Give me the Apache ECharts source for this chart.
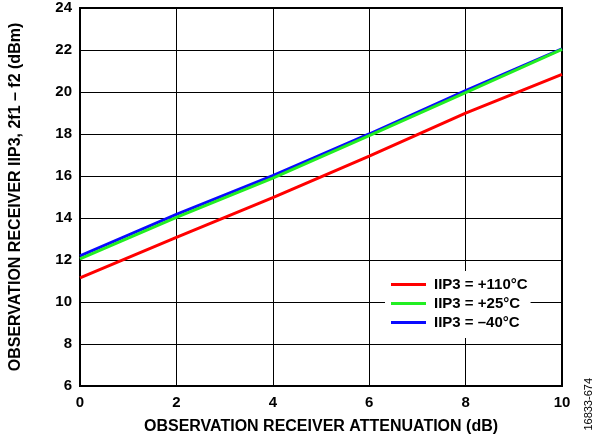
<!DOCTYPE html>
<html><head><meta charset="utf-8">
<script src="https://cdn.jsdelivr.net/npm/echarts@6/dist/echarts.min.js"></script>
<style>html,body{margin:0;padding:0;background:#fff}#c{width:597px;height:442px}</style>
</head><body><div id="c"></div>
<script>
var attenuation = [0, 2, 4, 6, 8, 10];
var iip3_110C = [11.15, 13.08, 14.97, 16.95, 18.99, 20.84];
var iip3_25C = [12.05, 14.03, 15.9, 17.92, 19.97, 22.03];
var iip3_m40C = [12.2, 14.17, 16.02, 18.0, 20.06, 22.05];
var seriesNames = ['IIP3 = +110°C', 'IIP3 = +25°C', 'IIP3 = –40°C'];
var xTitle = 'OBSERVATION RECEIVER ATTENUATION (dB)';
var yTitle = 'OBSERVATION RECEIVER IIP3, 2f1 – f2 (dBm)';
var noteText = '16833-674';

function pairs(xs, ys){ return xs.map(function(x,i){ return [x, ys[i]]; }); }
var font = 'Liberation Sans, Arial, sans-serif';
var chart = echarts.init(document.getElementById('c'));
chart.setOption({
  animation: false,
  backgroundColor: '#fff',
  grid: {left: 80, right: 35, top: 8, bottom: 56, show: true, borderColor: '#000', borderWidth: 2, backgroundColor: 'transparent'},
  xAxis: {
    type: 'value', min: 0, max: 10, interval: 2,
    name: xTitle, nameLocation: 'middle', nameGap: 33,
    nameTextStyle: {fontFamily: font, fontWeight: 'bold', fontSize: 16, color: '#000'},
    axisLine: {show: true, lineStyle: {color: '#000', width: 2}},
    axisTick: {show: false},
    axisLabel: {fontFamily: font, fontWeight: 'bold', fontSize: 15, color: '#000', margin: 9},
    splitLine: {show: true, lineStyle: {color: '#000', width: 1}}
  },
  yAxis: {
    type: 'value', min: 6, max: 24, interval: 2,
    name: yTitle, nameLocation: 'middle', nameGap: 56,
    nameTextStyle: {fontFamily: font, fontWeight: 'bold', fontSize: 16, color: '#000'},
    axisLine: {show: true, lineStyle: {color: '#000', width: 2}},
    axisTick: {show: false},
    axisLabel: {fontFamily: font, fontWeight: 'bold', fontSize: 15, color: '#000', margin: 8},
    splitLine: {show: true, lineStyle: {color: '#000', width: 1}}
  },
  legend: {
    data: seriesNames, orient: 'vertical', left: 385, top: 271,
    backgroundColor: '#fff', padding: [6, 3, 8, 6], itemGap: 4,
    itemWidth: 35, itemHeight: 3, icon: 'rect',
    textStyle: {fontFamily: font, fontWeight: 'bold', fontSize: 15, color: '#000', lineHeight: 15, padding: [0, 0, 0, 3]}
  },
  graphic: [{
    type: 'text', left: 583, top: 378, rotation: Math.PI/2,
    style: {text: noteText, font: '11px ' + font, fill: '#000'}
  }],
  series: [
    {name: seriesNames[0], type: 'line', data: pairs(attenuation, iip3_110C), showSymbol: false, lineStyle: {color: '#ff0000', width: 3}, itemStyle: {color: '#ff0000'}, z: 3},
    {name: seriesNames[2], type: 'line', data: pairs(attenuation, iip3_m40C), showSymbol: false, lineStyle: {color: '#0a0aff', width: 3}, itemStyle: {color: '#0a0aff'}, z: 3},
    {name: seriesNames[1], type: 'line', data: pairs(attenuation, iip3_25C), showSymbol: false, lineStyle: {color: '#22ee22', width: 3}, itemStyle: {color: '#22ee22'}, z: 4}
  ]
});
</script></body></html>
